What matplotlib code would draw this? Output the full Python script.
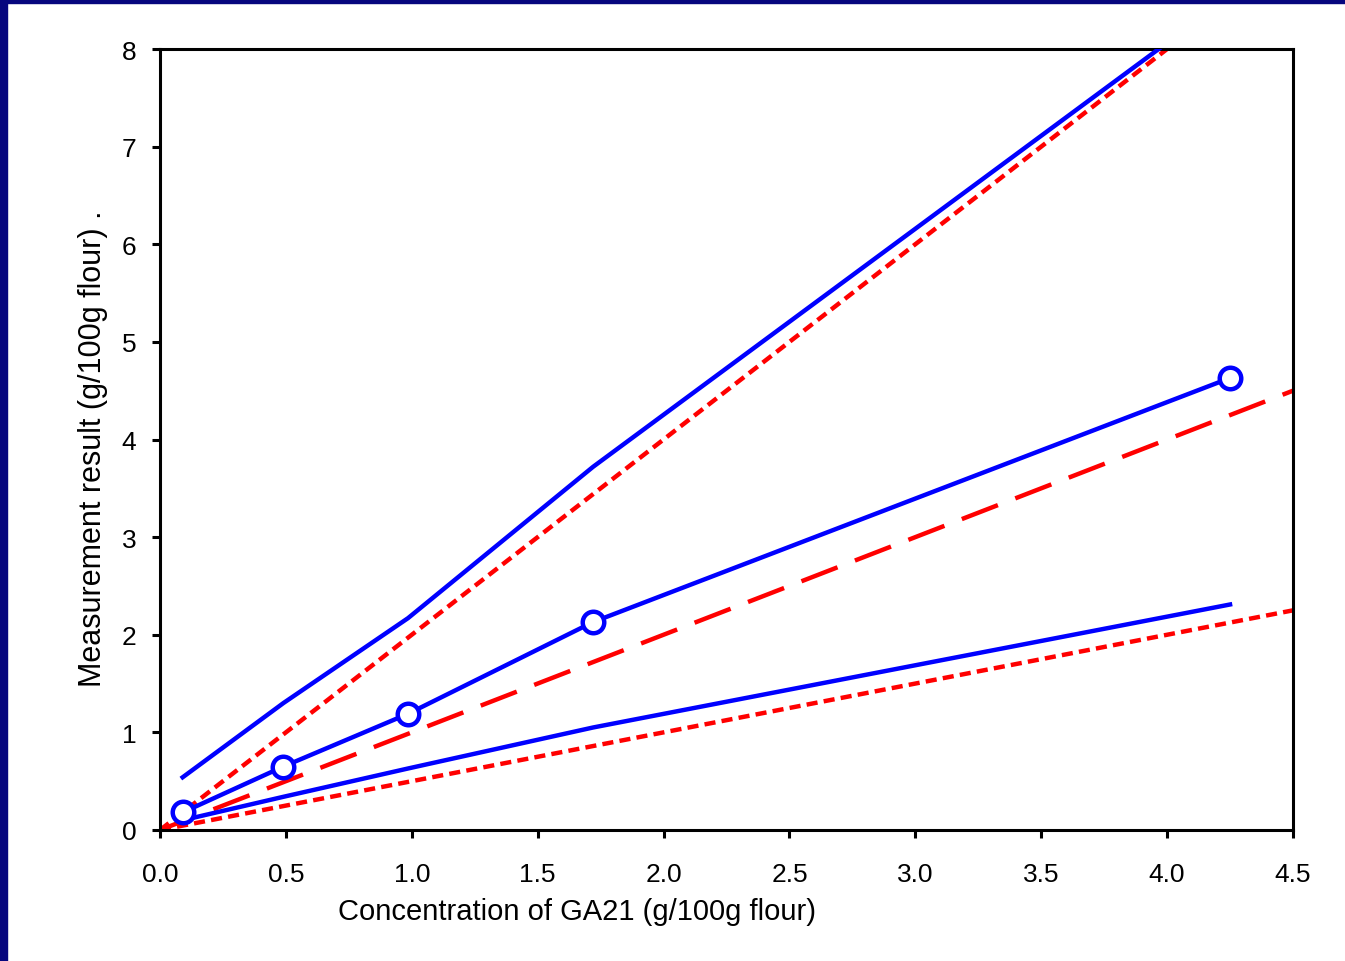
import matplotlib.pyplot as plt
from matplotlib.patches import Rectangle
import numpy as np

plt.rcParams['font.family'] = ['Liberation Sans', 'DejaVu Sans']

# Measured series (blue)
x_meas = [0.09, 0.49, 0.985, 1.72, 4.25]
y_mid = [0.18, 0.65, 1.19, 2.13, 4.63]
y_upper = [0.54, 1.30, 2.17, 3.72, 8.54]
y_lower = [0.10, 0.34, 0.63, 1.05, 2.31]

# Reference lines (red): y = slope * x
ref_x = [0.0, 4.5]
ref_slopes = [2.0, 1.0, 0.5]
ref_dashes = [(2.5, 1.4), (8.7, 4.2), (2.5, 1.4)]

x_ticks = np.arange(0, 4.51, 0.5)
y_ticks = range(0, 9)

BLUE = '#0000ff'
RED = '#ff0000'

fig = plt.figure(figsize=(13.45, 9.62), dpi=100)
ax = fig.add_axes([160 / 1345, 131 / 962, 1133 / 1345, 781 / 962])

# Red reference lines
for slope, dash in zip(ref_slopes, ref_dashes):
    ax.plot(ref_x, [slope * v for v in ref_x], color=RED, lw=3.2,
            dashes=dash, zorder=2)

# Blue lines
ax.plot(x_meas, y_upper, color=BLUE, lw=3.2, zorder=3)
ax.plot(x_meas, y_lower, color=BLUE, lw=3.2, zorder=3)
ax.plot(x_meas, y_mid, color=BLUE, lw=3.2, marker='o', ms=15.5,
        mfc='white', mec=BLUE, mew=3.2, zorder=4)

ax.set_xlim(0, 4.5)
ax.set_ylim(0, 8)
ax.set_xticks(x_ticks)
ax.set_xticklabels([f'{v:.1f}' for v in x_ticks])
ax.set_yticks(y_ticks)

for s in ax.spines.values():
    s.set_linewidth(2.2)
ax.tick_params(direction='out', length=6, width=2.2, labelsize=19,
               top=False, right=False)
ax.tick_params(axis='x', pad=17)
ax.tick_params(axis='y', pad=11)

ax.set_xlabel('Concentration of GA21 (g/100g flour)', fontsize=21)
ax.xaxis.set_label_coords(0.368, -0.086)
ax.set_ylabel('Measurement result (g/100g flour) .', fontsize=22)
ax.yaxis.set_label_coords(-0.046, 0.49)

# Dark blue frame on the left and top edges
navy = '#06067e'
fig.patches.append(Rectangle((0, 0), 7 / 1345, 1, transform=fig.transFigure,
                             color=navy, zorder=10))
fig.patches.append(Rectangle((0, 1 - 4 / 962), 1, 4 / 962,
                             transform=fig.transFigure, color=navy, zorder=10))

fig.savefig('out.png', dpi=100)
